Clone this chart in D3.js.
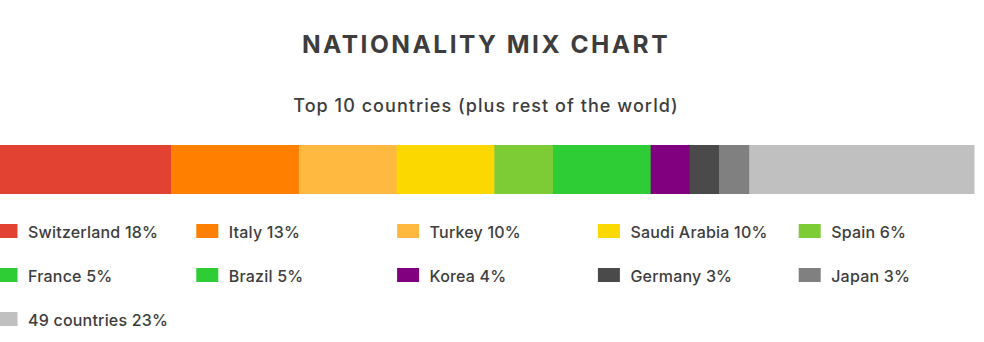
<!DOCTYPE html>
<html><head><meta charset="utf-8">
<script src="https://cdn.jsdelivr.net/npm/d3@7"></script>
<style>
html,body{margin:0;padding:0;background:#fff;}
svg{display:block;font-family:Inter,"Noto Sans",sans-serif;}
</style></head>
<body>
<svg id="chart" width="984" height="342"></svg>
<script>
const title = "NATIONALITY MIX CHART";
const subtitle = "Top 10 countries (plus rest of the world)";
const categories = ["Switzerland","Italy","Turkey","Saudi Arabia","Spain","France","Brazil","Korea","Germany","Japan","49 countries"];
const shares = [17.5,13.1,10.0,10.0,6.0,5.0,5.0,4.0,3.0,3.1,23.0];
const labelPct = [18,13,10,10,6,5,5,4,3,3,23];
const colors = ["#E14232","#FF8000","#FFB940","#FAD800","#7DCB35","#2ECC35","#2ECC35","#800080","#4A4A4A","#808080","#C0C0C0"];

const svg = d3.select("#chart");
const total = d3.sum(shares);
const x = d3.scaleLinear().domain([0,total]).range([0,974]);
const starts = d3.cumsum([0].concat(shares.slice(0,-1)));
const cx = 486;

svg.append("text").attr("x",cx).attr("y",53).attr("text-anchor","middle")
  .attr("font-size",24.5).attr("font-weight",700).attr("fill","#3d3d3d").attr("letter-spacing","2.5").text(title);
svg.append("text").attr("x",cx).attr("y",112).attr("text-anchor","middle")
  .attr("font-size",18).attr("font-weight",500).attr("fill","#3d3d3d").attr("letter-spacing","1.05").text(subtitle);

svg.append("g").selectAll("rect").data(categories).join("rect")
  .attr("x",(d,i)=>x(starts[i])).attr("y",145)
  .attr("width",(d,i)=>x(starts[i]+shares[i])-x(starts[i])+0.5)
  .attr("height",49).attr("fill",(d,i)=>colors[i]);

const cols = 5, pitchX = 200.8, pitchY = 44, x0 = -4.5, y0 = 224;
const leg = svg.append("g").selectAll("g").data(categories).join("g")
  .attr("transform",(d,i)=>`translate(${x0 + (i%cols)*pitchX},${y0 + Math.floor(i/cols)*pitchY})`);
leg.append("rect").attr("width",22).attr("height",14).attr("fill",(d,i)=>colors[i]);
leg.append("text").attr("x",32.5).attr("y",13.5).attr("font-size",16).attr("font-weight",500)
  .attr("letter-spacing","0.2").attr("fill","#3d3d3d").text((d,i)=>`${d} ${labelPct[i]}%`);
</script>
</body></html>
